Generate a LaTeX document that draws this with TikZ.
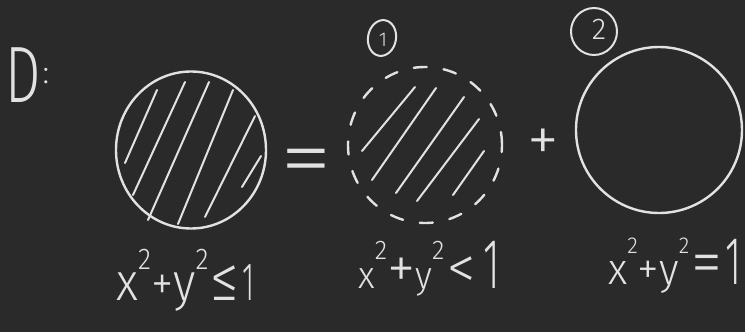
\documentclass[tikz,border=0pt]{standalone}
\usepackage{fontspec}
\IfFontExistsTF{Fira Sans Light}{\setmainfont{Fira Sans Light}}{\setmainfont{DejaVu Sans}}
\newfontfamily\symfont{DejaVu Sans}
\usetikzlibrary{shapes.geometric}
\definecolor{board}{HTML}{2A2A2A}
\definecolor{chalk}{HTML}{E2E2E2}
\newcommand{\hw}[2]{{\fontsize{#1}{#1}\selectfont #2}}
\newcommand{\one}[2]{\scalebox{#1}[1]{\hw{#2}{1}}}
\newcommand{\leqglyph}{\iffontchar\font"2264 ≤\else{\symfont ≤}\fi}
\tikzset{
  ink/.style={draw=chalk, line width=2.4pt, line cap=round, line join=round},
  hatch/.style={draw=chalk, line width=2pt, line cap=round},
  ring/.style={ellipse, ink, inner sep=0pt},
  dashring/.style={ellipse, ink, inner sep=0pt, dash pattern=on 13pt off 17pt},
  chalktext/.style={text=chalk, inner sep=0pt},
}
\begin{document}
\begin{tikzpicture}[x=1pt, y=-1pt]
\fill[board] (0,0) rectangle (745,332);
\useasboundingbox (0,0) rectangle (745,332);

% D:
\node[chalktext, anchor=base west] (dlabel) at (5,102)
  {\scalebox{0.7}[1]{\hw{80}{D}}\kern2pt\raisebox{19pt}{\hw{32}{:}}};

% circle 1 (closed disc)
\node[ring, minimum width=150pt, minimum height=157pt] (c1) at (191,150) {};
\draw[hatch] (157,90) -- (125,163);
\draw[hatch] (185,82) -- (133,195);
\draw[hatch] (209,82) -- (148,220);
\draw[hatch] (233,90) -- (178,224);
\draw[hatch] (255,116) -- (205,217);
\draw[hatch] (261,156) -- (242,187);

% equals
\node[chalktext] (eq) at (306,168) {\scalebox{1.25}[1]{\hw{84}{=}}};

% circle 2 (open disc, dashed)
\node[dashring, minimum width=154pt, minimum height=156pt] (c2) at (425,145) {};
\draw[hatch] (415,87) -- (362,151);
\draw[hatch] (436,88) -- (372,180);
\draw[hatch] (464,97) -- (396,193);
\draw[hatch] (479,119) -- (417,201);
\draw[hatch] (484,151) -- (453,195);
\node[ring, minimum width=28pt, minimum height=36pt, line width=2pt, rotate=-10] (n1) at (382,38) {};
\node[chalktext] (n1t) at (383,40) {\hw{20}{1}};

% plus
\node[chalktext] (plus) at (543,145) {\hw{64}{+}};

% circle 3 (boundary)
\node[ring, minimum width=166pt, minimum height=166pt] (c3) at (659,130) {};
\node[ring, minimum width=46pt, minimum height=47pt, line width=2pt] (n2) at (594,31.5) {};
\node[chalktext] (n2t) at (599,29) {\hw{30}{2}};

% labels
\node[chalktext, anchor=base west] (l1) at (116,300)
  {\scalebox{0.9}[1]{\hw{53}{x}\raisebox{31pt}{\hw{30}{2}}\hw{50}{+}\hw{53}{y}\raisebox{31pt}{\hw{30}{2}}\kern2pt\hw{64}{\leqglyph}\kern4pt\one{0.6}{54}}};
\node[chalktext, anchor=base west] (l2) at (358,288)
  {\scalebox{0.95}[1]{\hw{38}{x}\raisebox{29pt}{\hw{27}{2}}\hw{60}{+}\hw{38}{y}\raisebox{29pt}{\hw{27}{2}}\kern3pt\hw{60}{<}\kern8pt\one{0.6}{71}}};
\node[chalktext, anchor=base west] (l3) at (608,284)
  {\scalebox{0.95}[1]{\hw{44}{x}\raisebox{31pt}{\hw{23}{2}}\hw{46}{+}\hw{44}{y}\raisebox{31pt}{\hw{23}{2}}\kern2pt\hw{66}{=}\kern3pt\one{0.6}{68}}};
\end{tikzpicture}
\end{document}
